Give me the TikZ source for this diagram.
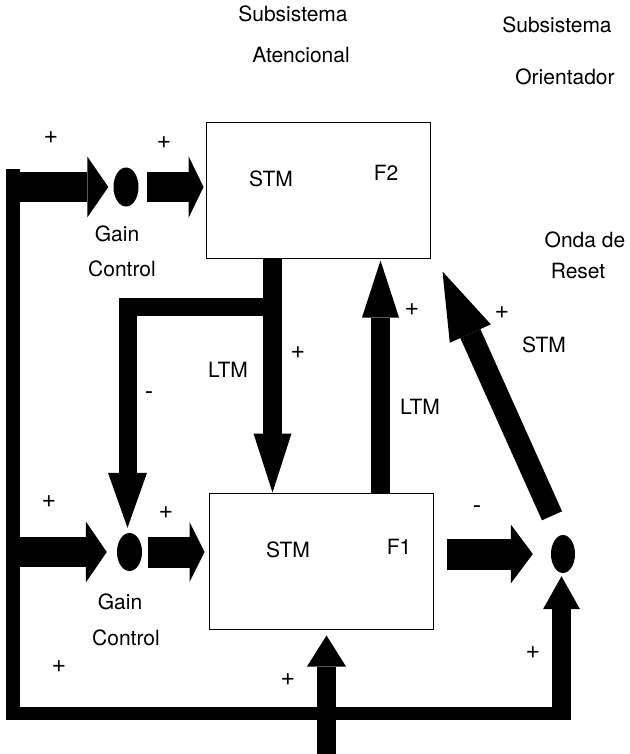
\documentclass[tikz,border=0pt]{standalone}
\usepackage{fontspec}
\setmainfont{TeX Gyre Heros}
\usetikzlibrary{arrows.meta,shapes.geometric}
\begin{document}
\begin{tikzpicture}[x=1pt,y=-1pt,
  lbl/.style={anchor=base, inner sep=0pt, font=\fontsize{21}{25}\selectfont},
  sgn/.style={anchor=center, inner sep=0pt, font=\fontsize{25}{30}\selectfont},
  box/.style={draw, line width=1pt, minimum width=224pt, inner sep=0pt},
  dot/.style={ellipse, fill=black, inner sep=0pt},
  fat/.style={line width=#1, line cap=butt},
  tip/.style n args={2}{-{Triangle[length=#1,width=#2,line width=0pt]}}
]
\useasboundingbox (0,0) rectangle (629,754);
\fill[white] (0,0) rectangle (629,754);

% boxes and gain-control dots
\node[box, minimum height=135pt] (F2) at (318,190.5) {};
\node[box, minimum height=136pt] (F1) at (321,561) {};
\node[dot, minimum width=25pt, minimum height=39pt] (g1) at (126,187) {};
\node[dot, minimum width=25pt, minimum height=38pt] (g2) at (129.5,552) {};
\node[dot, minimum width=24pt, minimum height=38pt] (g3) at (563,554) {};

\coordinate (barTop) at (13,169);
\coordinate (barCorner) at (13,713.5);
\coordinate (barEnd) at (571,713.5);
\coordinate (inhStart) at (272,307);
\coordinate (inF1) at (326.5,754);

% input bar
\draw[fat=13.5pt, line join=miter] (barTop) -- (barCorner) -- (barEnd);

% arrows
\draw[fat=29pt, tip={21pt}{61pt}] (barTop |- g1) -- ([xshift=-5pt]g1.west);
\draw[fat=30pt, tip={15pt}{62pt}] ([xshift=8.5pt]g1.east) -- ([xshift=-2pt]g1.east -| F2.west);
\draw[fat=30pt, tip={21pt}{61pt}] (barTop |- g2) -- ([xshift=-10pt]g2.west);
\draw[fat=31pt, tip={15pt}{60pt}] ([xshift=6pt]g2.east) -- ([xshift=-4pt]g2.east -| F1.west);
\draw[fat=31pt, tip={22pt}{59pt}] ([xshift=13pt]F1.east |- g3) -- ([xshift=-18pt]g3.west);
\draw[fat=19pt, tip={59pt}{38pt}] ([xshift=-45.5pt]F2.south) -- ([xshift=-45.5pt]F2.south |- F1.north);
\draw[fat=19pt, tip={57pt}{37pt}] ([xshift=59.5pt]F1.north) -- ([xshift=59.5pt,yshift=-2pt]F1.north |- F2.south);
\draw[fat=22pt, tip={68pt}{45pt}] ([xshift=-11pt,yshift=19pt]g3.north) -- ([xshift=12pt,yshift=-13pt]F2.south east);
\draw[fat=19pt, tip={33pt}{37pt}] ([xshift=-1.5pt]g3.south |- barEnd) -- ([xshift=-1.5pt,yshift=-3pt]g3.south);
\draw[fat=19pt, tip={31pt}{39pt}] (inF1) -- ([yshift=-6pt]inF1 |- F1.south);
\draw[fat=18pt, line join=miter, tip={55pt}{39pt}] (inhStart) -| ([xshift=-2pt,yshift=5pt]g2.north);

% texts
\node[lbl] at (293,22) {Subsistema};
\node[lbl] at (301,63) {Atencional};
\node[lbl] at (557,33) {Subsistema};
\node[lbl] at (565,85) {Orientador};
\node[lbl] at (585,247) {Onda de};
\node[lbl] at (578,278) {Reset};
\node[lbl] at (271,186) {STM};
\node[lbl] at (386,181) {F2};
\node[lbl] at (288,557) {STM};
\node[lbl] at (399,554) {F1};
\node[lbl] at (117,241) {Gain};
\node[lbl] at (122,276) {Control};
\node[lbl] at (120,609) {Gain};
\node[lbl] at (126,645) {Control};
\node[lbl] at (228,377) {LTM};
\node[lbl] at (420,414) {LTM};
\node[lbl] at (544,352) {STM};

% signs
\foreach \p [count=\i] in {(51,138),(164,143),(49,502),(166,513),(59,667),(288,680),(533,653),(412,310),(502,313),(298,353)}
  \node[sgn] (plus\i) at \p {+};
\node[sgn] (minus1) at (149,396) {-};
\node[sgn] (minus2) at (477,510) {-};
\end{tikzpicture}
\end{document}
